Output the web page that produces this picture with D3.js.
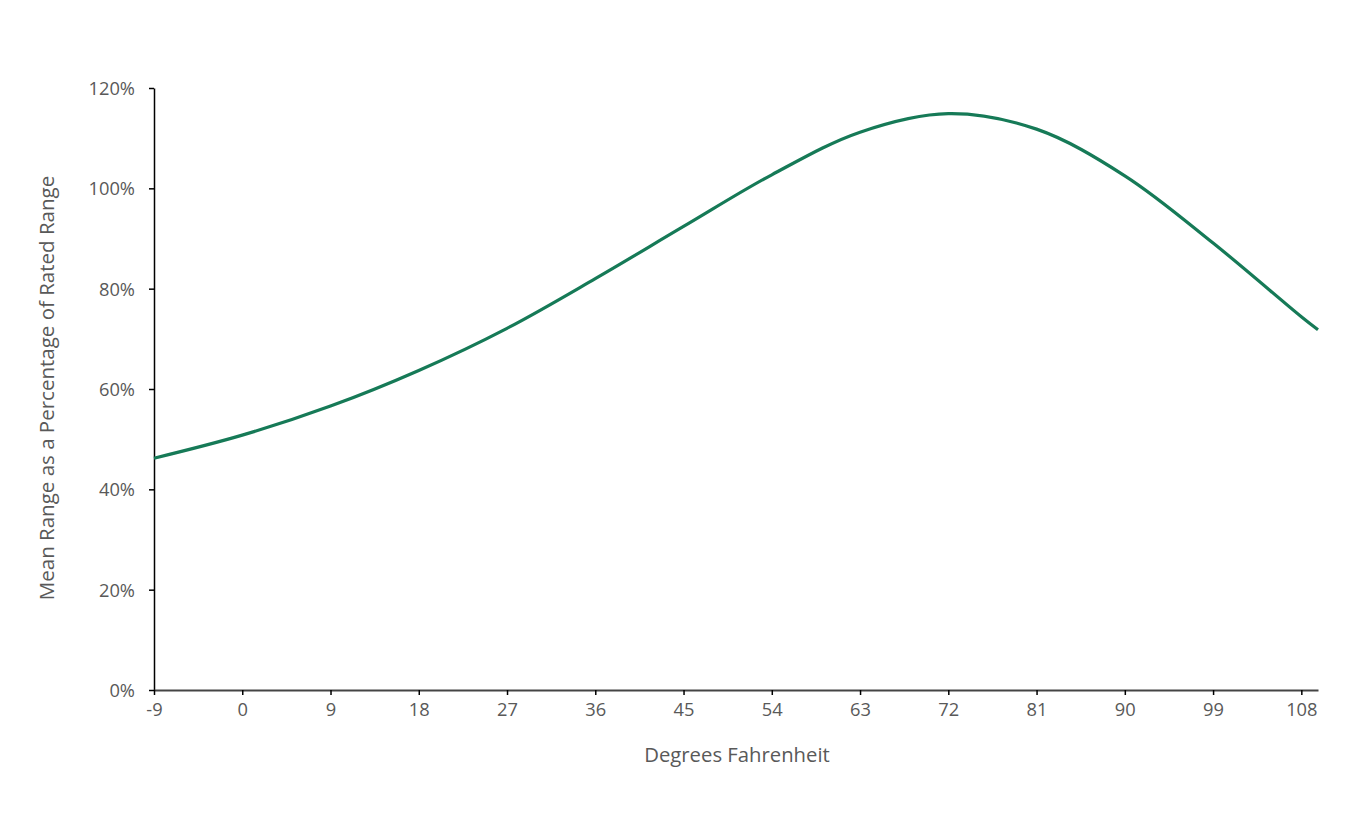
<!DOCTYPE html>
<html><head><meta charset="utf-8">
<script src="https://cdn.jsdelivr.net/npm/d3@7"></script>
<style>body{margin:0;background:#fff;} text{font-family:"Open Sans",sans-serif;}</style>
</head><body><svg id="c" width="1350" height="817"></svg>
<script>
const temps = [-9, 0, 9, 18, 27, 36, 45, 54, 63, 72, 81, 90, 99, 108, 109.7];
const rangePct = [46.2, 50.8, 56.6, 63.7, 72.1, 82.0, 92.4, 102.7, 111.2, 114.9, 111.8, 102.5, 89.1, 74.4, 71.8];
const xTicks = [-9, 0, 9, 18, 27, 36, 45, 54, 63, 72, 81, 90, 99, 108];
const yTicks = [0, 20, 40, 60, 80, 100, 120];
const xTitle = "Degrees Fahrenheit";
const yTitle = "Mean Range as a Percentage of Rated Range";

const svg = d3.select("#c");
const x = d3.scaleLinear().domain([-9, 109.7]).range([154, 1318]);
const y = d3.scaleLinear().domain([0, 120]).range([690, 88]);
const txt = "#595959";

const gy = svg.append("g").attr("transform", "translate(154,0)")
  .call(d3.axisLeft(y).tickValues(yTicks).tickFormat(d => d + "%").tickSize(5).tickSizeOuter(0));
gy.select(".domain").attr("stroke", "#000").attr("stroke-width", 1.5);
gy.selectAll(".tick line").attr("stroke", "#000").attr("stroke-width", 1.5);
gy.selectAll(".tick text").attr("fill", txt).attr("font-size", 18.3).attr("x", -19).attr("dy", "0.36em");

const gx = svg.append("g").attr("transform", "translate(0,690)")
  .call(d3.axisBottom(x).tickValues(xTicks).tickFormat(d => d).tickSize(5).tickSizeOuter(0));
gx.select(".domain").attr("stroke", "#444").attr("stroke-width", 2);
gx.selectAll(".tick line").attr("stroke", "#000").attr("stroke-width", 1.5);
gx.selectAll(".tick text").attr("fill", txt).attr("font-size", 18.3).attr("y", 13).attr("dy", "0.71em");

const data = temps.map((t, i) => [t, rangePct[i]]);
svg.append("path").datum(data)
  .attr("fill", "none").attr("stroke", "#167a57").attr("stroke-width", 3.2)
  .attr("d", d3.line().x(d => x(d[0])).y(d => y(d[1])).curve(d3.curveCatmullRom.alpha(0.5)));

svg.append("text").attr("x", 737).attr("y", 762).attr("text-anchor", "middle")
  .attr("fill", txt).attr("font-size", 20.3).text(xTitle);
svg.append("text").attr("transform", "translate(54,388) rotate(-90)").attr("text-anchor", "middle")
  .attr("fill", txt).attr("font-size", 20.5).text(yTitle);
</script></body></html>
